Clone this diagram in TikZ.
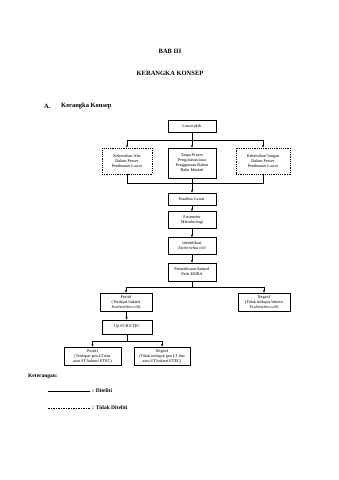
\documentclass[tikz,border=0pt]{standalone}
\usepackage{fontspec}
\setmainfont{Liberation Serif}
\usetikzlibrary{arrows.meta}
\begin{document}
\begin{tikzpicture}[x=1pt,y=-1pt,
 box/.style={draw, line width=0.7pt, inner sep=0pt, align=center, font=\fontsize{4.2}{5}\selectfont},
 dbox/.style={box, dash pattern=on 1.2pt off 1pt},
 arr/.style={-{Stealth[length=2.8pt,width=2.2pt]}, line width=0.7pt},
 ln/.style={line width=0.7pt},
 title/.style={font=\fontsize{6.5}{7}\selectfont\bfseries, inner sep=0pt},
 legtext/.style={font=\fontsize{5.5}{6}\selectfont\bfseries, inner sep=0pt, anchor=west}]
\useasboundingbox[fill=white] (0,0) rectangle (339,480);

\node[title] (bab) at (170,51) {BAB III};
\node[title] (kk) at (170,73) {KERANGKA KONSEP};
\node[title, anchor=west] (a) at (44,106) {A.};
\node[title, anchor=west] (ak) at (61,106) {Kerangka Konsep};

\node[box, minimum width=48pt, minimum height=12pt] (lawar) at (192,126) {Lawar plek};
\node[dbox, minimum width=50pt, minimum height=26pt] (kal) at (127,161) {Kebersihan Alat\\Dalam Proses\\Pembuatan Lawar};
\node[box, minimum width=48pt, minimum height=30pt] (tanpa) at (192,163) {Tanpa Proses\\Pengolahan/atau\\Penggunaan Bahan\\Baku Mentah};
\node[dbox, minimum width=54pt, minimum height=26pt] (ktg) at (263,161) {Kebersihan Tangan\\Dalam Proses\\Pembuatan Lawar};
\node[box, minimum width=48pt, minimum height=12pt] (kual) at (192,199) {Kualitas Lawar};
\node[box, minimum width=48pt, minimum height=17pt] (param) at (192,220) {Parameter\\Mikrobiologi};
\node[box, minimum width=48pt, minimum height=17pt] (ident) at (192,246) {Identifikasi\\\textit{Escherichia coli}};
\node[box, minimum width=48pt, minimum height=18pt] (pem) at (192,272) {Pemeriksaan Sampel\\Pada EMBA};
\node[box, minimum width=52pt, minimum height=18pt] (pos1) at (126,302) {Positif\\(Terdapat bakteri\\\textit{Escherichia coli})};
\node[box, minimum width=52pt, minimum height=18pt] (neg1) at (264,302) {Negatif\\(Tidak terdapat bakteri\\\textit{Escherichia coli})};
\node[box, minimum width=50pt, minimum height=14pt] (pcr) at (127,327) {Uji PCR ETEC};
\node[box, minimum width=57pt, minimum height=18pt] (pos2) at (92.5,356) {Positif\\(Terdapat gen LT dan\\atau ST bakteri ETEC)};
\node[box, minimum width=56pt, minimum height=18pt] (neg2) at (162,356) {Negatif\\(Tidak terdapat gen LT dan\\atau ST bakteri ETEC)};

\coordinate (j1) at (192,140);
\coordinate (j2) at (192,183);
\coordinate (j3) at (192,287);
\coordinate (j4) at (127,341);

\draw[ln] (lawar) -- (j1);
\draw[arr] (j1) -| (kal.north);
\draw[arr] (j1) -- (tanpa);
\draw[arr] (j1) -| (ktg.north);
\draw[ln] (kal.south) |- (j2);
\draw[ln] (ktg.south) |- (j2);
\draw[ln] (tanpa) -- (j2);
\draw[arr] (j2) -- (kual);
\draw[arr] (kual) -- (param);
\draw[arr] (param) -- (ident);
\draw[arr] (ident) -- (pem);
\draw[ln] (pem) -- (j3);
\draw[arr] (j3) -| (pos1.north);
\draw[arr] (j3) -| (neg1.north);
\draw[arr] (pos1) -- (pcr);
\draw[ln] (pcr) -- (j4);
\draw[arr] (j4) -| (pos2.north);
\draw[arr] (j4) -| (neg2.north);

\node[legtext] (ket) at (28,376) {Keterangan:};
\coordinate (l1a) at (48,391);
\coordinate (l1b) at (90,391);
\coordinate (l2a) at (48,408);
\coordinate (l2b) at (90,408);
\draw[ln] (l1a) -- (l1b);
\draw[ln, dash pattern=on 1.5pt off 1pt] (l2a) -- (l2b);
\node[legtext] (dit) at (92,391) {: Diteliti};
\node[legtext] (tdit) at (92,408) {: Tidak Diteliti};
\end{tikzpicture}
\end{document}
